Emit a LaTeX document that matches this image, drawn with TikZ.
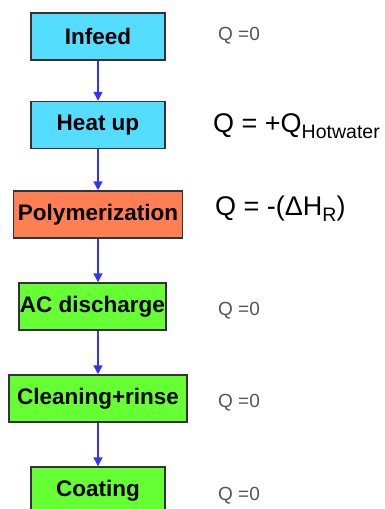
\documentclass[tikz,border=0pt]{standalone}
\usepackage{fontspec}
\setmainfont{Liberation Sans}
\usetikzlibrary{arrows.meta}
\definecolor{boxcyan}{HTML}{55DDFF}
\definecolor{boxorange}{HTML}{FF7F55}
\definecolor{boxgreen}{HTML}{66FF33}
\definecolor{boxline}{HTML}{333333}
\definecolor{flowblue}{HTML}{3333FF}
\definecolor{qgray}{HTML}{555555}
\tikzset{
  stepbox/.style={draw=boxline, line width=1.5pt, minimum height=47pt, inner sep=0pt,
    font=\fontsize{22.5}{22.5}\selectfont\bfseries},
  flow/.style={draw=flowblue, line width=1.6pt, -{Triangle[width=9pt,length=9pt]}},
  qsmall/.style={anchor=west, inner sep=0pt, text=qgray, font=\fontsize{19}{19}\selectfont},
  qbig/.style={anchor=west, inner sep=0pt, text=black, font=\fontsize{27}{27}\selectfont}
}
\begin{document}
\begin{tikzpicture}[x=1pt,y=-1pt]
\useasboundingbox (0,0) rectangle (384,509);
\clip (0,0) rectangle (384,509);
\fill[white] (0,0) rectangle (384,509);
\node[stepbox, fill=boxcyan, minimum width=134pt] (infeed) at (98,36.5) {Infeed};
\node[stepbox, fill=boxcyan, minimum width=134pt] (heat) at (98,125) {Heat up};
\node[stepbox, fill=boxorange, minimum width=169pt] (poly) at (98,214.5) {Polymerization};
\node[stepbox, fill=boxgreen, minimum width=147pt] (ac) at (92.5,306.5) {AC discharge};
\node[stepbox, fill=boxgreen, minimum width=178pt] (clean) at (98,398.5) {Cleaning+rinse};
\node[stepbox, fill=boxgreen, minimum width=134pt] (coat) at (98,490.5) {Coating};
\draw[flow] (infeed.south) -- (heat.north);
\draw[flow] (heat.south) -- (poly.north);
\draw[flow] (poly.south) -- (poly.south |- ac.north);
\draw[flow] (clean.north |- ac.south) -- (clean.north);
\draw[flow] (clean.south) -- (coat.north);
\node[qsmall] (q1) at (218,36) {Q =0};
\node[qbig] (q2) at (213,126) {Q = +Q\raisebox{-6pt}{\fontsize{19.5}{19.5}\selectfont Hotwater}};
\node[qbig] (q3) at (215,209) {Q = -(ΔH\raisebox{-6pt}{\fontsize{19.5}{19.5}\selectfont R})};
\node[qsmall] (q4) at (218,311) {Q =0};
\node[qsmall] (q5) at (218,403) {Q =0};
\node[qsmall] (q6) at (218,496) {Q =0};
\end{tikzpicture}
\end{document}
